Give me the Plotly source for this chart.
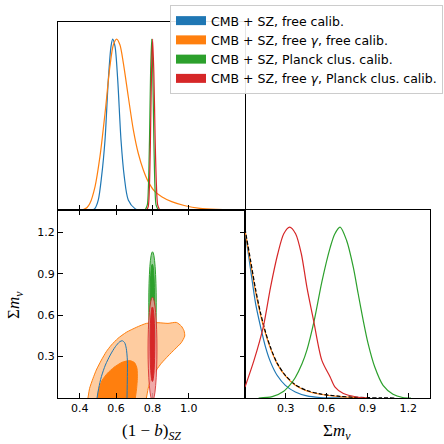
import plotly.graph_objects as go

# ---- series colours ----
C_BLUE, C_ORANGE, C_GREEN, C_RED = "#1f77b4", "#ff7f0e", "#2ca02c", "#d62728"
L_ORANGE, L_GREEN, L_RED = "rgb(254,204,160)", "rgb(150,207,150)", "rgb(238,155,155)"

series_names = [
    "CMB + SZ, free calib.",
    "CMB + SZ, free <i>γ</i>, free calib.",
    "CMB + SZ, Planck clus. calib.",
    "CMB + SZ, free <i>γ</i>, Planck clus. calib.",
]

# ---- 1D marginal of (1-b)_SZ (normalised to peak = 1) ----
b_blue_x = [0.470, 0.484, 0.502, 0.520, 0.539, 0.557, 0.572, 0.581, 0.594, 0.609, 0.627, 0.645, 0.667, 0.704, 0.725]
b_blue_p = [0.0, 0.01, 0.059, 0.195, 0.41, 0.76, 0.957, 1.0, 0.957, 0.76, 0.41, 0.195, 0.059, 0.008, 0.0]

b_orange_x = [0.400, 0.419, 0.440, 0.456, 0.484, 0.511, 0.539, 0.566, 0.585, 0.603, 0.621, 0.640, 0.667,
              0.695, 0.722, 0.750, 0.777, 0.814, 0.851, 0.906, 0.980, 1.062, 1.150, 1.250, 1.310]
b_orange_p = [0.0, 0.003, 0.015, 0.039, 0.137, 0.312, 0.566, 0.84, 0.967, 1.0, 0.967, 0.859, 0.664,
              0.469, 0.332, 0.234, 0.166, 0.107, 0.078, 0.049, 0.025, 0.010, 0.004, 0.001, 0.0]

b_green_x = [0.760, 0.772, 0.778, 0.784, 0.790, 0.796, 0.802, 0.808, 0.814, 0.820, 0.832]
b_green_p = [0.0, 0.03, 0.135, 0.41, 0.80, 1.0, 0.80, 0.41, 0.135, 0.03, 0.0]

b_red_x = [0.768, 0.777, 0.783, 0.789, 0.795, 0.801, 0.808, 0.815, 0.822, 0.829, 0.840]
b_red_p = [0.0, 0.02, 0.12, 0.40, 0.80, 1.0, 0.80, 0.42, 0.15, 0.03, 0.0]

# ---- 1D marginal of sum m_nu ----
m_blue_x = [0.0, 0.042, 0.078, 0.115, 0.151, 0.188, 0.236, 0.297, 0.370, 0.455, 0.553, 0.650, 0.750]
m_blue_p = [0.98, 0.747, 0.552, 0.415, 0.298, 0.21, 0.133, 0.074, 0.035, 0.012, 0.003, 0.001, 0.0]

m_orange_x = [0.0, 0.042, 0.078, 0.115, 0.151, 0.188, 0.236, 0.297, 0.370, 0.455, 0.553, 0.698, 0.800, 0.900]
m_orange_p = [0.98, 0.786, 0.62, 0.484, 0.377, 0.289, 0.201, 0.129, 0.074, 0.041, 0.022, 0.008, 0.003, 0.0]

m_prior_x = [0.0, 0.042, 0.078, 0.115, 0.151, 0.188, 0.236, 0.297, 0.370, 0.455, 0.553, 0.698, 0.800, 0.900, 1.000, 1.100]
m_prior_p = [0.99, 0.80, 0.635, 0.495, 0.385, 0.295, 0.205, 0.132, 0.078, 0.044, 0.024, 0.010, 0.005, 0.002, 0.001, 0.0]

m_green_x = [0.100, 0.200, 0.285, 0.334, 0.370, 0.419, 0.455, 0.509, 0.565, 0.626, 0.660, 0.699,
             0.747, 0.796, 0.832, 0.869, 0.905, 0.954, 1.015, 1.088, 1.160, 1.220]
m_green_p = [0.0, 0.008, 0.04, 0.08, 0.12, 0.20, 0.28, 0.454, 0.68, 0.88, 0.96, 1.0,
             0.922, 0.766, 0.61, 0.454, 0.318, 0.181, 0.074, 0.022, 0.003, 0.0]

m_red_x = [0.0, 0.066, 0.134, 0.188, 0.241, 0.285, 0.328, 0.372, 0.414, 0.455, 0.504, 0.565,
           0.626, 0.662, 0.723, 0.820, 0.900]
m_red_p = [0.064, 0.22, 0.415, 0.649, 0.844, 0.961, 1.0, 0.961, 0.844, 0.649, 0.454, 0.22,
           0.123, 0.064, 0.026, 0.006, 0.0]

# ---- 2D contours: (1-b)_SZ vs sum m_nu ----
orange95_x = [0.445, 0.454, 0.473, 0.491, 0.519, 0.546, 0.574, 0.610, 0.656, 0.711, 0.767, 0.831, 0.886,
              0.932, 0.959, 0.974, 0.978, 0.959, 0.923, 0.886, 0.849, 0.822, 0.798, 0.779, 0.767]
orange95_y = [0.0, 0.070, 0.143, 0.203, 0.275, 0.336, 0.384, 0.432, 0.476, 0.512, 0.541, 0.546, 0.541,
              0.548, 0.522, 0.488, 0.449, 0.401, 0.353, 0.304, 0.251, 0.203, 0.155, 0.082, 0.0]
orange68_x = [0.497, 0.504, 0.522, 0.552, 0.588, 0.633, 0.675, 0.702, 0.715, 0.717, 0.713, 0.706]
orange68_y = [0.0, 0.058, 0.126, 0.179, 0.222, 0.259, 0.271, 0.256, 0.215, 0.143, 0.070, 0.0]

blue_contour_x = [0.495, 0.504, 0.519, 0.541, 0.568, 0.596, 0.620, 0.634, 0.647, 0.656, 0.662, 0.662, 0.660]
blue_contour_y = [0.0, 0.070, 0.155, 0.239, 0.312, 0.372, 0.408, 0.415, 0.401, 0.360, 0.275, 0.155, 0.0]

# narrow contours: (x_low, x_high), (y_low, y_high) for the 95% and 68% regions
green95_box = [(0.780, 0.821), (0.32, 1.06)]
green68_box = [(0.787, 0.812), (0.42, 0.97)]
red95_box = [(0.776, 0.825), (-0.02, 0.73)]
red68_box = [(0.787, 0.813), (0.12, 0.66)]

b_ticks = [0.4, 0.6, 0.8, 1.0]
m_ticks = [0.3, 0.6, 0.9, 1.2]

W = H = 444
px_x = lambda p: p / W
px_y = lambda p: 1 - p / H

fig = go.Figure()

def curve(x, y, color, ax, dash=None):
    fig.add_trace(go.Scatter(x=x, y=y, mode="lines", line=dict(color=color, width=1.2, shape="spline",
                                                               smoothing=0.8, dash=dash),
                             xaxis=ax[0], yaxis=ax[1], showlegend=False, hoverinfo="skip"))

# top: 1D (1-b)
curve(b_blue_x, b_blue_p, C_BLUE, ("x", "y"))
curve(b_orange_x, b_orange_p, C_ORANGE, ("x", "y"))
curve(b_green_x, b_green_p, C_GREEN, ("x", "y"))
curve(b_red_x, b_red_p, C_RED, ("x", "y"))

# bottom-left: 2D contours
fig.add_trace(go.Scatter(x=orange95_x, y=orange95_y, mode="lines", fill="toself", fillcolor=L_ORANGE,
                         line=dict(color=C_ORANGE, width=1, shape="spline", smoothing=0.6),
                         xaxis="x2", yaxis="y2", showlegend=False, hoverinfo="skip"))
fig.add_trace(go.Scatter(x=orange68_x, y=orange68_y, mode="lines", fill="toself", fillcolor=C_ORANGE,
                         line=dict(color=C_ORANGE, width=1, shape="spline", smoothing=0.6),
                         xaxis="x2", yaxis="y2", showlegend=False, hoverinfo="skip"))
fig.add_trace(go.Scatter(x=blue_contour_x, y=blue_contour_y, mode="lines",
                         line=dict(color=C_BLUE, width=1, shape="spline", smoothing=0.8),
                         xaxis="x2", yaxis="y2", showlegend=False, hoverinfo="skip"))

for box, fill, col, op in [(green95_box, L_GREEN, C_GREEN, 1.0), (green68_box, C_GREEN, C_GREEN, 1.0),
                           (red95_box, L_RED, C_RED, 0.85), (red68_box, C_RED, C_RED, 1.0)]:
    fig.add_shape(type="circle", xref="x2", yref="y2", x0=box[0][0], x1=box[0][1], y0=box[1][0], y1=box[1][1],
                  fillcolor=fill, opacity=op, line=dict(color=col, width=1), layer="above")

# bottom-right: 1D sum m_nu
curve(m_blue_x, m_blue_p, C_BLUE, ("x3", "y3"))
curve(m_orange_x, m_orange_p, C_ORANGE, ("x3", "y3"))
curve(m_prior_x, m_prior_p, "black", ("x3", "y3"), dash="4px,2px")
curve(m_green_x, m_green_p, C_GREEN, ("x3", "y3"))
curve(m_red_x, m_red_p, C_RED, ("x3", "y3"))

# legend entries: thick bars as patch-like handles
for name, col in zip(series_names, [C_BLUE, C_ORANGE, C_GREEN, C_RED]):
    fig.add_trace(go.Scatter(x=[None], y=[None], mode="lines", line=dict(color=col, width=9), name=name,
                             xaxis="x3", yaxis="y3", showlegend=True))

x_left = [px_x(58), px_x(245)]
x_right = [px_x(245), px_x(430)]
y_top = [px_y(210), px_y(22)]
y_bot = [px_y(398), px_y(210)]

tickfont = dict(family="DejaVu Sans", size=11, color="black")
common = dict(showline=True, linecolor="black", linewidth=1, showgrid=False, zeroline=False,
              ticks="inside", ticklen=5, tickcolor="black", tickfont=tickfont)

title_font = dict(family="Liberation Serif", size=17, color="black")

fig.update_layout(
    width=W, height=H, margin=dict(l=0, r=0, t=0, b=0), autosize=False,
    paper_bgcolor="white", plot_bgcolor="white",
    xaxis=dict(domain=x_left, range=[0.28, 1.31], anchor="y", tickvals=b_ticks, showticklabels=False,
               mirror=True, **common),
    yaxis=dict(domain=y_top, range=[0, 1.1], anchor="x", showline=True, linecolor="black", linewidth=1,
               mirror=True, showgrid=False, zeroline=False, showticklabels=False, ticks=""),
    xaxis2=dict(domain=x_left, range=[0.28, 1.31], anchor="y2", tickvals=b_ticks,
                ticktext=["0.4", "0.6", "0.8", "1.0"], mirror="ticks", **common),
    yaxis2=dict(domain=y_bot, range=[0, 1.363], anchor="x2", tickvals=m_ticks,
                ticktext=["0.3", "0.6", "0.9", "1.2"], mirror="ticks", **common),
    xaxis3=dict(domain=x_right, range=[0, 1.36], anchor="y3", tickvals=m_ticks,
                ticktext=["0.3", "0.6", "0.9", "1.2"], mirror=True, **common),
    yaxis3=dict(domain=y_bot, range=[0, 1.1], anchor="x3", showline=True, linecolor="black", linewidth=1,
                mirror=True, showgrid=False, zeroline=False, showticklabels=False, ticks=""),
    legend=dict(x=px_x(170), y=px_y(5), xanchor="left", yanchor="top", bgcolor="rgba(255,255,255,0.9)",
                bordercolor="#cccccc", borderwidth=1, font=dict(family="DejaVu Sans", size=12.5, color="black"),
                tracegroupgap=0, itemwidth=30),
    annotations=[
        dict(text="(1 − <i>b</i>)<sub><i>SZ</i></sub>", x=px_x(151), y=px_y(432), xref="paper", yref="paper",
             xanchor="center", yanchor="middle", showarrow=False, font=title_font),
        dict(text="Σ<i>m</i><sub><i>ν</i></sub>", x=px_x(15), y=px_y(305), xref="paper", yref="paper",
             xanchor="center", yanchor="middle", showarrow=False, textangle=-90, font=title_font),
        dict(text="Σ<i>m</i><sub><i>ν</i></sub>", x=px_x(337), y=px_y(432), xref="paper", yref="paper",
             xanchor="center", yanchor="middle", showarrow=False, font=title_font),
    ],
)

fig.write_html("out.html")
